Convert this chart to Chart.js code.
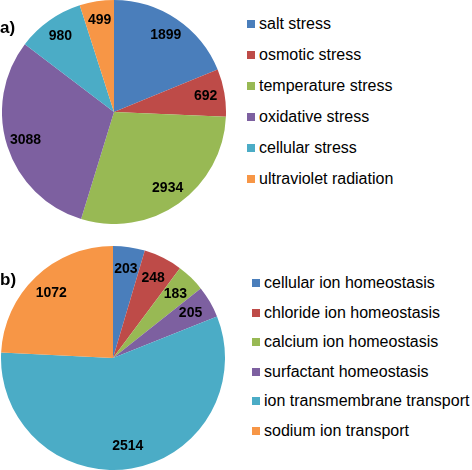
<!DOCTYPE html>
<html>
<head>
<meta charset="utf-8">
<script src="https://cdn.jsdelivr.net/npm/chart.js@4.4.0/dist/chart.umd.min.js"></script>
<style>
    body { margin: 0; background: #fff; font-family: 'Liberation Sans', Arial, sans-serif; }
    #wrap { position: relative; width: 472px; height: 470px; overflow: hidden; }
    .box { position: absolute; width: 224px; height: 224px; }
    .tag { position: absolute; left: 0; font-weight: bold; font-size: 17px; color: #000; }
    .legend { position: absolute; font-size: 16px; color: #000; white-space: nowrap; }
    .legend div { position: absolute; left: 0; height: 20px; line-height: 20px; }
    .legend span { display: inline-block; width: 8px; height: 8px; margin-right: 4px; vertical-align: 1px; }
</style>
</head>
<body>
<div id="wrap">
    <div class="box" style="left:2px; top:0px"><canvas id="stress-chart"></canvas></div>
    <div class="box" style="left:1px; top:246px"><canvas id="ion-chart"></canvas></div>
    <div class="tag" style="top:18px">a)</div>
    <div class="tag" style="top:270px">b)</div>
    <div class="legend" id="stress-legend" style="left:247px; top:14px"></div>
    <div class="legend" id="ion-legend" style="left:252px; top:273px"></div>
</div>
<script>
var stressLabels = ['salt stress', 'osmotic stress', 'temperature stress', 'oxidative stress', 'cellular stress', 'ultraviolet radiation']
var stressValues = [1899, 692, 2934, 3088, 980, 499]

var ionLabels = ['cellular ion homeostasis', 'chloride ion homeostasis', 'calcium ion homeostasis', 'surfactant homeostasis', 'ion transmembrane transport', 'sodium ion transport']
var ionValues = [203, 248, 183, 205, 2514, 1072]

var colors = ['#4A7EBB', '#BE4B48', '#98B954', '#7D60A0', '#4BACC6', '#F79646']

// numbers inside the slices, placed along the mid angle near the rim
function sliceLabels(factor){
    return {
        id: 'sliceLabels',
        afterDatasetsDraw: function(chart){
            const ctx = chart.ctx
            const meta = chart.getDatasetMeta(0)
            ctx.save()
            ctx.font = "bold 14px 'Liberation Sans', Arial, sans-serif"
            ctx.fillStyle = '#000'
            ctx.textAlign = 'center'
            ctx.textBaseline = 'middle'
            meta.data.forEach(function(arc, i){
                const p = arc.getProps(['x', 'y', 'startAngle', 'endAngle', 'outerRadius'], true)
                const mid = (p.startAngle + p.endAngle) / 2
                const r = p.outerRadius * factor
                ctx.fillText(chart.data.datasets[0].data[i], p.x + Math.cos(mid) * r, p.y + Math.sin(mid) * r)
            })
            ctx.restore()
        }
    }
}

function loadPie(chartid, labels, values, factor){
    const ctx = document.getElementById(chartid).getContext('2d')
    const config = {
        type: 'pie',
        data: {
            labels: labels,
            datasets: [{
                data: values,
                backgroundColor: colors,
                borderWidth: 0
            }]
        },
        options: {
            responsive: true,
            maintainAspectRatio: false,
            animation: false,
            layout: { padding: 0 },
            plugins: {
                legend: { display: false },
                tooltip: { enabled: false }
            }
        },
        plugins: [sliceLabels(factor)]
    }
    return new Chart(ctx, config)
}

function loadLegend(legendid, labels, step){
    var el = document.getElementById(legendid)
    labels.forEach(function(label, i){
        var row = document.createElement('div')
        row.style.top = (i * step) + 'px'
        row.innerHTML = "<span style='background:" + colors[i] + "'></span>" + label
        el.appendChild(row)
    })
}

loadPie('stress-chart', stressLabels, stressValues, 0.83)
loadPie('ion-chart', ionLabels, ionValues, 0.8)
loadLegend('stress-legend', stressLabels, 31)
loadLegend('ion-legend', ionLabels, 29.6)
</script>
</body>
</html>
